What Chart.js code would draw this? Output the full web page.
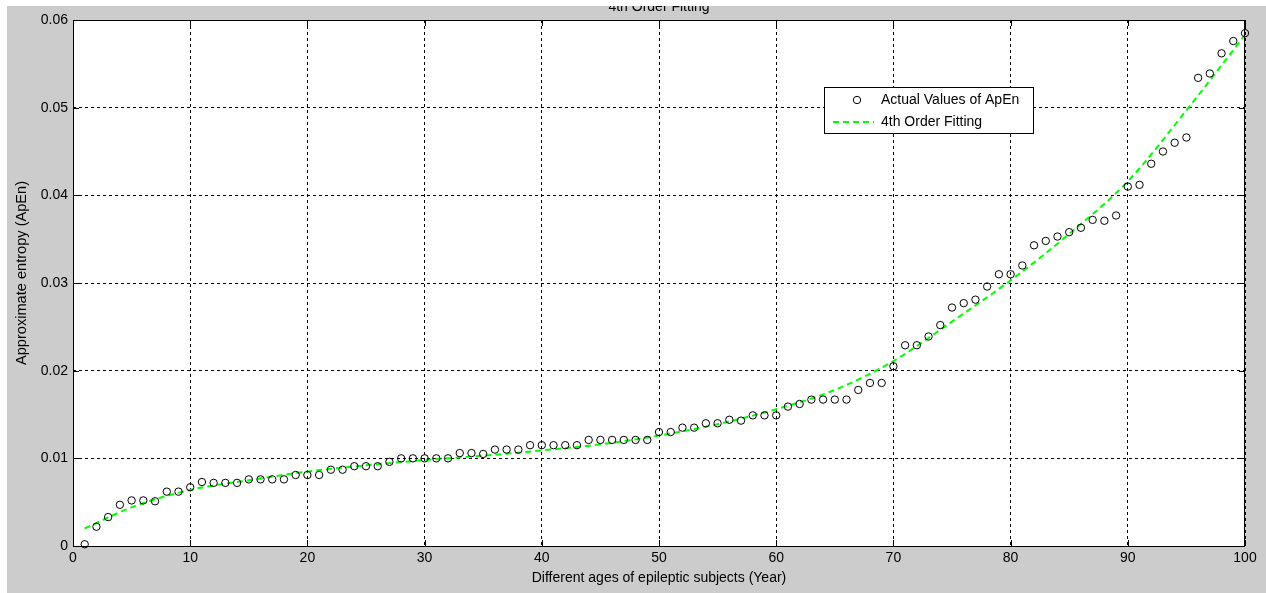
<!DOCTYPE html>
<html>
<head>
<meta charset="utf-8">
<script src="https://cdn.jsdelivr.net/npm/chart.js@4.4.1/dist/chart.umd.min.js"></script>
<style>
  html, body { margin: 0; padding: 0; background: #cccccc; overflow: hidden; }
  canvas { display: block; }
</style>
</head>
<body>
<canvas id="apen-chart" width="1266" height="593"></canvas>
<script>
// subject ages (years)
const ages = [
    1, 2, 3, 4, 5, 6, 7, 8, 9, 10,
    11, 12, 13, 14, 15, 16, 17, 18, 19, 20,
    21, 22, 23, 24, 25, 26, 27, 28, 29, 30,
    31, 32, 33, 34, 35, 36, 37, 38, 39, 40,
    41, 42, 43, 44, 45, 46, 47, 48, 49, 50,
    51, 52, 53, 54, 55, 56, 57, 58, 59, 60,
    61, 62, 63, 64, 65, 66, 67, 68, 69, 70,
    71, 72, 73, 74, 75, 76, 77, 78, 79, 80,
    81, 82, 83, 84, 85, 86, 87, 88, 89, 90,
    91, 92, 93, 94, 95, 96, 97, 98, 99, 100
];

// measured approximate entropy for each age
const apenValues = [
    0.0002, 0.0022, 0.0033, 0.0047, 0.0052, 0.0052, 0.0051, 0.0062, 0.0062, 0.0067,
    0.0073, 0.0072, 0.0072, 0.0072, 0.0076, 0.0076, 0.0076, 0.0076, 0.0081, 0.0081,
    0.0081, 0.0087, 0.0087, 0.0091, 0.0091, 0.0091, 0.0096, 0.0100, 0.0100, 0.0100,
    0.0100, 0.0100, 0.0106, 0.0106, 0.0105, 0.0110, 0.0110, 0.0110, 0.0115, 0.0115,
    0.0115, 0.0115, 0.0115, 0.0121, 0.0121, 0.0121, 0.0121, 0.0121, 0.0121, 0.0130,
    0.0130, 0.0135, 0.0135, 0.0140, 0.0140, 0.0144, 0.0143, 0.0149, 0.0149, 0.0149,
    0.0159, 0.0162, 0.0167, 0.0167, 0.0167, 0.0167, 0.0178, 0.0186, 0.0186, 0.0205,
    0.0229, 0.0229, 0.0239, 0.0252, 0.0272, 0.0277, 0.0281, 0.0296, 0.0310, 0.0310,
    0.0320, 0.0343, 0.0348, 0.0353, 0.0358, 0.0363, 0.0372, 0.0371, 0.0377, 0.0410,
    0.0412, 0.0436, 0.0450, 0.0460, 0.0466, 0.0534, 0.0539, 0.0562, 0.0576, 0.0585
];

// polynomial fit curve
const fitAges = [1, 5, 10, 15, 20, 25, 30, 35, 40, 45, 50, 55, 60, 65, 70, 75, 80, 85, 90, 95, 100];
const fitValues = [
    0.0020, 0.0044, 0.0064, 0.0075, 0.0085, 0.0092, 0.0098, 0.0103, 0.0109, 0.0116,
    0.0126, 0.0139, 0.0156, 0.0178, 0.0211, 0.0256, 0.0303, 0.0356, 0.0416, 0.0497,
    0.0583
];

const xTicks = [0, 10, 20, 30, 40, 50, 60, 70, 80, 90, 100];
const xTickLabels = ['0', '10', '20', '30', '40', '50', '60', '70', '80', '90', '100'];
const yTicks = [0, 0.01, 0.02, 0.03, 0.04, 0.05, 0.06];
const yTickLabels = ['0', '0.01', '0.02', '0.03', '0.04', '0.05', '0.06'];

const FONT = 'Liberation Sans, Arial, sans-serif';
const FIT_GREEN = '#00ff00';

// figure background, axes box, inner ticks, legend, y label and the clipped title
const matlabFrame = {
    id: 'matlabFrame',
    beforeDraw(chart) {
        const { ctx, chartArea: a } = chart;
        ctx.save();
        ctx.fillStyle = '#cccccc';
        ctx.fillRect(0, 0, chart.width, chart.height);
        ctx.fillStyle = '#ffffff';
        ctx.fillRect(a.left, a.top, a.right - a.left, a.bottom - a.top);
        ctx.restore();
    },
    afterDraw(chart) {
        const { ctx, chartArea: a, scales } = chart;
        ctx.save();

        // box
        ctx.strokeStyle = '#000';
        ctx.lineWidth = 1;
        ctx.setLineDash([]);
        ctx.strokeRect(a.left + 0.5, a.top + 0.5, a.right - a.left - 1, a.bottom - a.top);

        // ticks pointing inwards on all four sides
        const t = 6;
        ctx.beginPath();
        xTicks.forEach(v => {
            const x = Math.round(scales.x.getPixelForValue(v)) + 0.5;
            ctx.moveTo(x, a.bottom); ctx.lineTo(x, a.bottom - t);
            ctx.moveTo(x, a.top); ctx.lineTo(x, a.top + t);
        });
        yTicks.forEach(v => {
            const y = Math.round(scales.y.getPixelForValue(v)) + 0.5;
            ctx.moveTo(a.left, y); ctx.lineTo(a.left + t, y);
            ctx.moveTo(a.right, y); ctx.lineTo(a.right - t, y);
        });
        ctx.stroke();

        // legend
        const lx = 824, ly = 87, lw = 209, lh = 46;
        ctx.fillStyle = '#fff';
        ctx.fillRect(lx, ly, lw, lh);
        ctx.strokeStyle = '#000';
        ctx.strokeRect(lx + 0.5, ly + 0.5, lw, lh);

        const ds = chart.data.datasets;
        ctx.font = '14px ' + FONT;
        ctx.textBaseline = 'middle';
        ctx.textAlign = 'left';
        ctx.fillStyle = '#000';

        ctx.beginPath();
        ctx.arc(857, ly + 13, 3.7, 0, Math.PI * 2);
        ctx.strokeStyle = ds[0].borderColor;
        ctx.lineWidth = 1;
        ctx.stroke();
        ctx.fillText(ds[0].label, 881, ly + 13);

        ctx.beginPath();
        ctx.setLineDash(ds[1].borderDash);
        ctx.strokeStyle = ds[1].borderColor;
        ctx.lineWidth = 2;
        ctx.moveTo(833, ly + 35);
        ctx.lineTo(874, ly + 35);
        ctx.stroke();
        ctx.setLineDash([]);
        ctx.fillText(ds[1].label, 881, ly + 35);

        // y axis label, sits a bit above the middle of the axis
        ctx.save();
        ctx.translate(22, 273);
        ctx.rotate(-Math.PI / 2);
        ctx.textAlign = 'center';
        ctx.font = '14.6px ' + FONT;
        ctx.fillText('Approximate entropy (ApEn)', 0, 0);
        ctx.restore();

        // title, top half sits under the strip at the window edge
        ctx.textAlign = 'center';
        ctx.textBaseline = 'alphabetic';
        ctx.fillText('4th Order Fitting', (a.left + a.right) / 2, 11);
        ctx.fillStyle = '#ffffff';
        ctx.fillRect(0, 0, chart.width, 6);
        ctx.fillRect(0, 0, 7, chart.height);
        ctx.restore();
    }
};

function main() {
    const canvas = document.querySelector('#apen-chart');

    new Chart(canvas.getContext('2d'), {
        type: 'scatter',
        data: {
            datasets: [
                {
                    label: 'Actual Values of ApEn',
                    data: ages.map((age, i) => ({ x: age, y: apenValues[i] })),
                    showLine: false,
                    pointStyle: 'circle',
                    pointRadius: 3.7,
                    pointHoverRadius: 3.7,
                    borderColor: '#000',
                    backgroundColor: 'rgba(0,0,0,0)',
                    borderWidth: 1,
                    clip: false
                },
                {
                    label: '4th Order Fitting',
                    data: fitAges.map((age, i) => ({ x: age, y: fitValues[i] })),
                    showLine: true,
                    borderColor: FIT_GREEN,
                    backgroundColor: FIT_GREEN,
                    borderWidth: 2,
                    borderDash: [6, 4],
                    pointRadius: 0,
                    pointHoverRadius: 0,
                    tension: 0.4,
                    cubicInterpolationMode: 'monotone',
                    fill: false
                }
            ]
        },
        options: {
            responsive: false,
            animation: false,
            devicePixelRatio: 1,
            layout: { padding: { left: 0, right: 21, top: 20, bottom: 0 } },
            plugins: {
                legend: { display: false },
                tooltip: { enabled: false },
                title: { display: false }
            },
            scales: {
                x: {
                    type: 'linear',
                    min: 0,
                    max: 100,
                    afterBuildTicks: s => { s.ticks = xTicks.map(v => ({ value: v })); },
                    afterFit: s => { s.height = 47; },
                    ticks: {
                        color: '#000',
                        font: { family: FONT, size: 14 },
                        padding: 4,
                        maxRotation: 0,
                        callback: (v, i) => xTickLabels[i]
                    },
                    grid: { color: '#000', lineWidth: 1, drawTicks: false },
                    border: { display: false, dash: [3, 3] },
                    title: {
                        display: true,
                        text: 'Different ages of epileptic subjects (Year)',
                        color: '#000',
                        font: { family: FONT, size: 14 },
                        padding: { top: 0, bottom: 6 }
                    }
                },
                y: {
                    type: 'linear',
                    min: 0,
                    max: 0.06,
                    afterBuildTicks: s => { s.ticks = yTicks.map(v => ({ value: v })); },
                    afterFit: s => { s.width = 73; },
                    ticks: {
                        color: '#000',
                        font: { family: FONT, size: 14 },
                        padding: 5,
                        callback: (v, i) => yTickLabels[i]
                    },
                    grid: { color: '#000', lineWidth: 1, drawTicks: false },
                    border: { display: false, dash: [3, 3] }
                }
            }
        },
        plugins: [matlabFrame]
    });
}

main();
</script>
</body>
</html>
